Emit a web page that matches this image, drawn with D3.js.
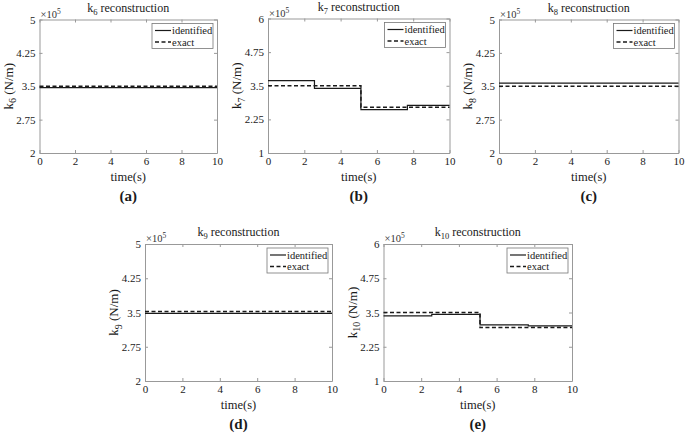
<!DOCTYPE html>
<html>
<head>
<meta charset="utf-8">
<script src="https://cdn.jsdelivr.net/npm/d3@7"></script>
<style>
  body { margin: 0; background: #fff; }
  svg { display: block; }
  svg text { font-family: "Liberation Serif", "Times New Roman", serif; }
</style>
</head>
<body>
<svg id="chart" width="685" height="434"></svg>
<script>
// --- data (values in units of 1e5 N/m) ---
const panelLabels = ["(a)", "(b)", "(c)", "(d)", "(e)"];
const stiffnessIds = ["6", "7", "8", "9", "10"];
const timeSteps = [0, 2.56, 5.12, 7.68, 10];
const xTicks = [0, 2, 4, 6, 8, 10];
const yTicksNarrow = [2, 2.75, 3.5, 4.25, 5];
const yTicksWide = [1, 2.25, 3.5, 4.75, 6];
const legendLabels = ["identified", "exact"];

const identifiedK6 = [3.47, 3.47, 3.47, 3.47];
const identifiedK7 = [3.69, 3.40, 2.61, 2.77];
const identifiedK8 = [3.57, 3.57, 3.57, 3.57];
const identifiedK9 = [3.48, 3.48, 3.48, 3.48];
const identifiedK10 = [3.38, 3.43, 3.05, 3.01];

const exactK6 = [3.5, 3.5, 3.5, 3.5];
const exactK7 = [3.5, 3.5, 2.7, 2.7];
const exactK8 = [3.5, 3.5, 3.5, 3.5];
const exactK9 = [3.52, 3.52, 3.52, 3.52];
const exactK10 = [3.5, 3.5, 2.95, 2.95];

// --- layout ---
const frames = [
  {x0: 39.5, x1: 217, y0: 19.5, y1: 153, ticks: yTicksNarrow, ident: identifiedK6, exact: exactK6},
  {x0: 268, x1: 449.5, y0: 18.5, y1: 153, ticks: yTicksWide, ident: identifiedK7, exact: exactK7},
  {x0: 499, x1: 678.5, y0: 19.5, y1: 153, ticks: yTicksNarrow, ident: identifiedK8, exact: exactK8},
  {x0: 145, x1: 332, y0: 244, y1: 381, ticks: yTicksNarrow, ident: identifiedK9, exact: exactK9},
  {x0: 383.5, x1: 572, y0: 244, y1: 381, ticks: yTicksWide, ident: identifiedK10, exact: exactK10}
];

const axisColour = "#999";
const ink = "#1a1a1a";
const svg = d3.select("#chart");

function stepPoints(vals) {
  return timeSteps.map((t, j) => [t, vals[Math.min(j, vals.length - 1)]]);
}

function drawPanel(f, i) {
  const x = d3.scaleLinear([0, 10], [f.x0, f.x1]);
  const y = d3.scaleLinear(d3.extent(f.ticks), [f.y1, f.y0]);
  const g = svg.append("g");
  const fmt = d => String(d);

  // axes, ticks pointing inward on all four sides
  const styleAxis = a => {
    a.attr("font-family", null).attr("font-size", null);
    a.select(".domain").attr("stroke", axisColour);
    a.selectAll(".tick line").attr("stroke", axisColour);
    a.selectAll("text").attr("fill", ink).style("font-size", "11px");
  };
  g.append("g").attr("transform", `translate(0,${f.y1})`)
    .call(d3.axisBottom(x).tickValues(xTicks).tickFormat(fmt).tickSizeInner(-3).tickSizeOuter(0).tickPadding(4))
    .call(styleAxis);
  g.append("g").attr("transform", `translate(0,${f.y0})`)
    .call(d3.axisTop(x).tickValues(xTicks).tickFormat("").tickSizeInner(-3).tickSizeOuter(0))
    .call(styleAxis);
  g.append("g").attr("transform", `translate(${f.x0},0)`)
    .call(d3.axisLeft(y).tickValues(f.ticks).tickFormat(fmt).tickSizeInner(-3).tickSizeOuter(0).tickPadding(4))
    .call(styleAxis);
  g.append("g").attr("transform", `translate(${f.x1},0)`)
    .call(d3.axisRight(y).tickValues(f.ticks).tickFormat("").tickSizeInner(-3).tickSizeOuter(0))
    .call(styleAxis);

  // step lines
  const line = d3.line().curve(d3.curveStepAfter).x(d => x(d[0])).y(d => y(d[1]));
  g.append("path").attr("d", line(stepPoints(f.ident)))
    .attr("fill", "none").attr("stroke", ink).attr("stroke-width", 1.2);
  g.append("path").attr("d", line(stepPoints(f.exact)))
    .attr("fill", "none").attr("stroke", ink).attr("stroke-width", 1.5)
    .attr("stroke-dasharray", "4,2.5");

  // exponent label
  const ex = g.append("text").attr("x", f.x0 + 1).attr("y", f.y0 - 2)
    .style("font-size", "10.5px").attr("fill", "#333");
  ex.append("tspan").text("\u00d710");
  ex.append("tspan").attr("dy", -4).style("font-size", "7.5px").text("5");

  // title
  const cx = (f.x0 + f.x1) / 2;
  const title = g.append("text").attr("x", cx).attr("y", f.y0 - 8)
    .attr("text-anchor", "middle").style("font-size", "12px").attr("fill", ink);
  title.append("tspan").text("k");
  title.append("tspan").attr("dy", 3).style("font-size", "8.5px").text(stiffnessIds[i]);
  title.append("tspan").attr("dy", -3).text(" reconstruction");

  // y label
  const cy = (f.y0 + f.y1) / 2;
  const yl = g.append("text").attr("transform", `translate(${f.x0 - 27},${cy}) rotate(-90)`)
    .attr("text-anchor", "middle").style("font-size", "13px").attr("fill", ink);
  yl.append("tspan").text("k");
  yl.append("tspan").attr("dy", 3.5).style("font-size", "10px").text(stiffnessIds[i]);
  yl.append("tspan").attr("dy", -3.5).text(" (N/m)");

  // x label and panel tag
  g.append("text").attr("x", cx).attr("y", f.y1 + 28).attr("text-anchor", "middle")
    .style("font-size", "12.5px").attr("fill", ink).text("time(s)");
  g.append("text").attr("x", cx).attr("y", f.y1 + 48).attr("text-anchor", "middle")
    .style("font-size", "15px").style("font-weight", "bold").attr("fill", ink)
    .text(panelLabels[i]);

  // legend
  const lw = 61, lh = 25;
  const lg = g.append("g").attr("transform", `translate(${f.x1 - 4 - lw},${f.y0 + 4})`);
  lg.append("rect").attr("width", lw).attr("height", lh)
    .attr("fill", "#fff").attr("stroke", "#777").attr("stroke-width", 0.8);
  legendLabels.forEach((lab, k) => {
    const ly = 7 + k * 11.5;
    lg.append("line").attr("x1", 3).attr("x2", 19).attr("y1", ly).attr("y2", ly)
      .attr("stroke", ink).attr("stroke-width", k ? 1.5 : 1.2)
      .attr("stroke-dasharray", k ? "4,2.5" : null);
    lg.append("text").attr("x", 20).attr("y", ly + 3.5)
      .style("font-size", "10.5px").attr("fill", ink).text(lab);
  });
}

frames.forEach(drawPanel);
</script>
</body>
</html>
